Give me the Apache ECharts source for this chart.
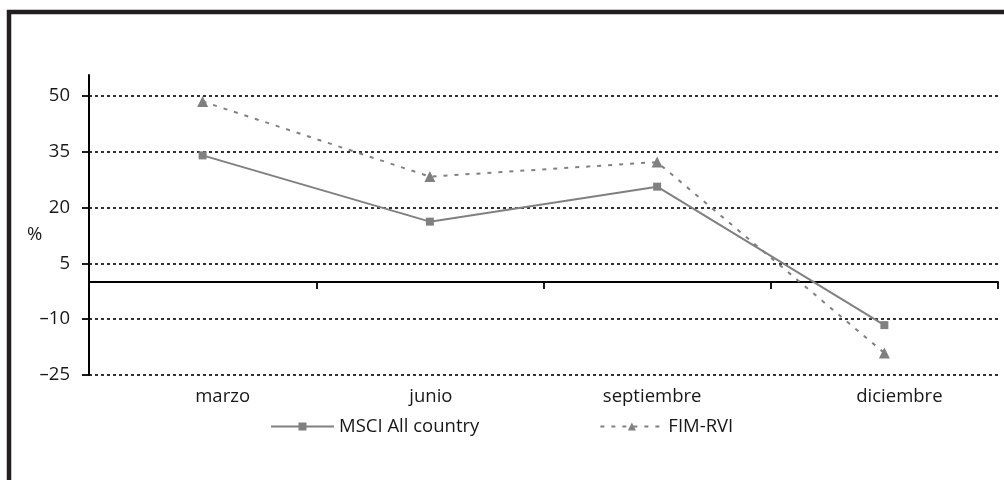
<!DOCTYPE html>
<html>
<head>
<meta charset="utf-8">
<script src="https://cdn.jsdelivr.net/npm/echarts@6/dist/echarts.min.js"></script>
<style>
html,body{margin:0;padding:0;background:#fff;}
#chart{width:1004px;height:480px;}
</style>
</head>
<body>
<div id="chart"></div>
<script>
const categories = ['marzo', 'junio', 'septiembre', 'diciembre'];
const msciValues = [34.0, 16.2, 25.6, -11.6];
const fimValues = [48.5, 28.3, 32.2, -19.1];
const yTickValues = [-25, -10, 5, 20, 35, 50];
const seriesNames = ['MSCI All country', 'FIM-RVI'];
const yUnit = '%';

const FONT = '"Open Sans", Lato, sans-serif';
const FS = 18.5;
const TXT = '#1a1718';
const LINE = '#808080';
const labelStyles = ['l0', 'l1', 'l2', 'l3'];

const chart = echarts.init(document.getElementById('chart'));
chart.setOption({
  animation: false,
  backgroundColor: '#fff',
  textStyle: { fontFamily: FONT },
  graphic: [
    { type: 'rect', shape: { x: 9, y: 12, width: 1020, height: 490 }, style: { fill: 'none', stroke: '#231f20', lineWidth: 4.5 }, z: 100 },
    { type: 'text', left: 27, top: 225, style: { text: yUnit, fontSize: FS, fontFamily: FONT, fill: TXT } }
  ],
  grid: { left: 89, right: 6, top: 75, bottom: 105 },
  legend: {
    bottom: 39,
    left: 265,
    itemWidth: 63,
    itemHeight: 10,
    itemGap: 120,
    textStyle: { fontSize: FS, color: TXT, fontFamily: FONT },
    data: seriesNames
  },
  xAxis: [
    {
      type: 'category',
      data: categories,
      boundaryGap: true,
      axisLine: { onZero: true, lineStyle: { color: '#000', width: 1.8 } },
      axisTick: { show: true, length: 7, lineStyle: { color: '#000', width: 1.8 } },
      axisLabel: { show: false },
      splitLine: { show: false }
    },
    {
      type: 'category',
      data: categories,
      position: 'bottom',
      boundaryGap: true,
      axisLine: { show: false, onZero: false },
      axisTick: { show: false },
      axisLabel: {
        margin: 12,
        fontSize: FS,
        color: TXT,
        fontFamily: FONT,
        formatter: function (v, i) { return '{' + labelStyles[i] + '|' + v + '}'; },
        rich: {
          l0: { fontSize: FS, color: TXT, fontFamily: FONT, padding: [0, 0, 0, 40] },
          l1: { fontSize: FS, color: TXT, fontFamily: FONT, padding: [0, 0, 0, 2] },
          l2: { fontSize: FS, color: TXT, fontFamily: FONT, padding: [0, 10, 0, 0] },
          l3: { fontSize: FS, color: TXT, fontFamily: FONT, padding: [0, 0, 0, 30] }
        }
      }
    }
  ],
  yAxis: {
    type: 'value',
    min: -25,
    max: 55.6,
    interval: 15,
    axisLine: { show: true, lineStyle: { color: '#000', width: 2 } },
    axisTick: { show: true, length: 7, customValues: yTickValues, lineStyle: { color: '#000', width: 1.8 } },
    axisLabel: {
      margin: 19,
      fontSize: FS,
      color: TXT,
      fontFamily: FONT,
      customValues: yTickValues,
      formatter: function (v) { return v < 0 ? '\u2013' + Math.abs(v) : String(v); }
    },
    splitLine: { show: true, lineStyle: { color: '#000', width: 1.6, type: [3, 3] } }
  },
  series: [
    {
      name: seriesNames[0],
      type: 'line',
      xAxisIndex: 0,
      data: msciValues,
      symbol: 'rect',
      symbolSize: 8,
      itemStyle: { color: LINE },
      lineStyle: { color: LINE, width: 2 },
      z: 3
    },
    {
      name: seriesNames[1],
      type: 'line',
      xAxisIndex: 0,
      data: fimValues,
      symbol: 'triangle',
      symbolSize: 11,
      itemStyle: { color: LINE },
      lineStyle: { color: LINE, width: 2, type: [4, 7] },
      z: 3
    }
  ]
});
</script>
</body>
</html>
